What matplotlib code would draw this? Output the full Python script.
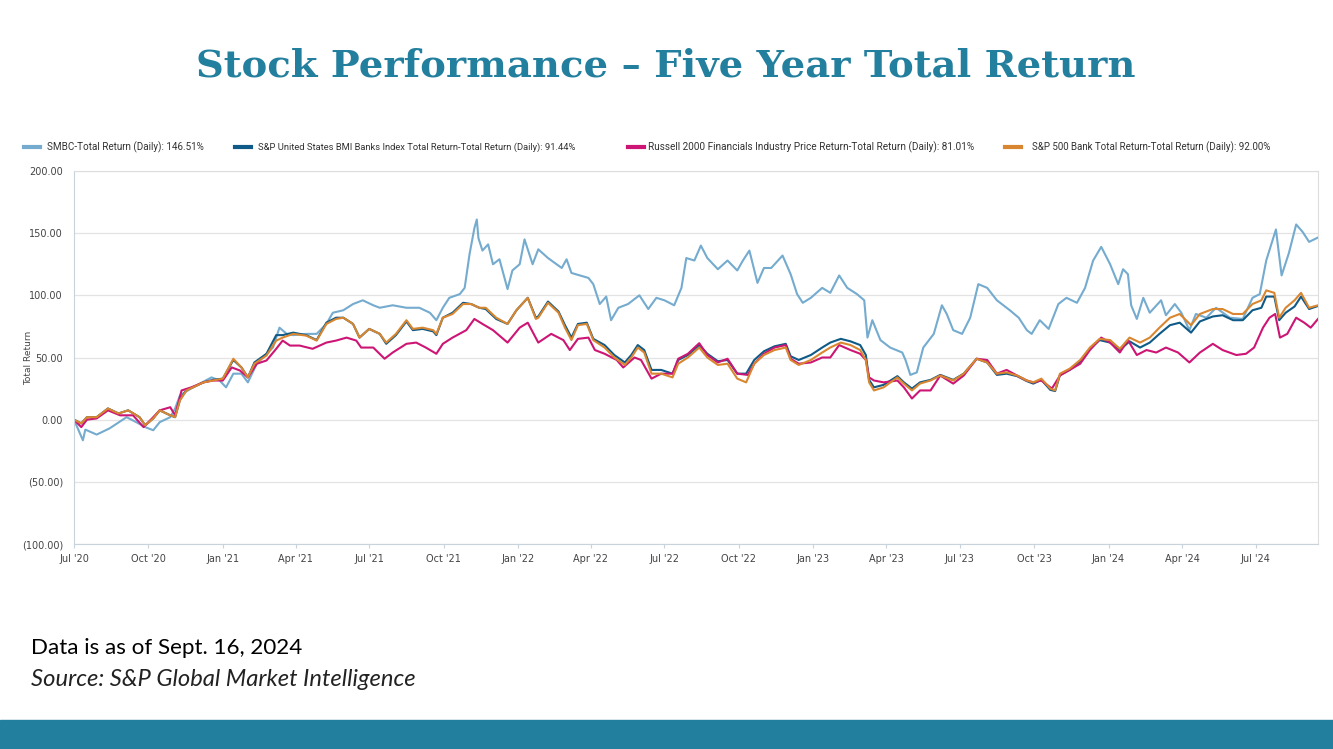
import matplotlib
matplotlib.use("Agg")
import matplotlib.pyplot as plt
import matplotlib.dates as mdates
import matplotlib.ticker as ticker
from matplotlib.lines import Line2D
import pandas as pd

START = pd.Timestamp("2020-07-01")
END = pd.Timestamp("2024-09-16")

# days since 2020-07-01 / total return (%)
smbc_days = [0, 11, 14, 28, 44, 65, 77, 88, 98, 106,
             119, 125, 131, 147, 170, 180, 188, 197, 207, 215,
             226, 246, 254, 263, 271, 287, 300, 312, 320, 333,
             345, 357, 370, 378, 394, 411, 427, 440, 448, 456,
             464, 477, 483, 489, 495, 498, 500, 505, 512, 518,
             526, 536, 542, 551, 557, 567,
             574, 586, 603, 609, 615, 636, 642, 650, 658, 664,
             673, 685, 699, 710, 720, 730, 742, 751, 757, 767,
             775, 783, 796, 808, 820, 827, 835, 845, 853, 862,
             876, 886, 894, 901, 911, 925, 935, 946, 956, 968,
             977, 981, 987, 997, 1009, 1024, 1028, 1034, 1042, 1050,
             1063, 1073, 1079, 1087, 1098, 1108, 1118, 1129,
             1141, 1157, 1168, 1178, 1184, 1194, 1205, 1217, 1227, 1240,
             1250, 1260, 1270, 1281, 1291, 1297, 1303, 1307, 1314, 1322,
             1330, 1344, 1350, 1361, 1369, 1379, 1387, 1400, 1412, 1429,
             1445, 1457, 1466, 1474, 1486, 1493, 1502, 1511, 1519, 1527,
             1538]
smbc_vals = [0, -16.6, -8, -12, -7, 2, -2, -6, -8.5, -2,
             2, 9, 19.5, 26, 34, 31.5, 26, 37, 37, 30,
             45, 58, 74, 69, 68, 69, 69, 77, 86, 88,
             93, 96, 92, 90, 92, 90, 90, 86, 80, 90,
             98, 101, 106, 133, 154, 161, 146, 136, 141, 125,
             129, 105, 120, 125, 145, 125,
             137, 130, 122, 129, 118, 114, 109, 93, 99, 80,
             90, 93, 100, 89, 98, 96, 92, 106, 130, 128,
             140, 130, 121, 128, 120, 128, 136, 110, 122, 122,
             132, 117, 101, 94, 98, 106, 102, 116, 106, 101,
             96, 66, 80, 64, 58, 54, 48, 36, 38, 58,
             69, 92, 85, 72, 69, 82, 109, 106,
             96, 88, 82, 72, 69, 80, 73, 93, 98, 94,
             106, 128, 139, 125, 109, 121, 117, 92, 81, 98,
             86, 96, 84, 93, 86, 72, 85, 82, 90, 82,
             81, 98, 101, 128, 153, 116, 134, 157, 151, 143,
             146.51]

bank_days = [0, 9, 16, 28, 42, 55, 67, 81, 88, 98,
             106, 119, 125, 131, 139, 147, 160, 172, 184, 197,
             207, 215, 223, 238, 250, 258, 271, 287, 300, 312,
             324, 333, 345, 353, 365, 378, 386, 398, 411, 419,
             431, 444, 448, 456, 468, 481, 491, 501, 509, 522,
             536, 547, 561, 571,
             574, 586, 599, 607, 615, 623, 634, 642, 656, 668,
             681, 689, 697, 705, 714, 726, 740, 747, 759, 773,
             783, 796, 808, 820, 831, 841, 853, 866, 880, 886,
             896, 911, 925, 935, 948, 960, 972, 979, 983, 989,
             1001, 1018, 1026, 1036, 1046, 1059, 1071, 1087, 1100, 1116,
             1129,
             1141, 1153, 1166, 1178, 1186, 1196, 1207, 1213, 1219, 1231,
             1244, 1256, 1268, 1281, 1293, 1305, 1318, 1330, 1342, 1355,
             1367, 1381, 1392, 1408, 1420, 1433, 1445, 1457, 1468, 1474,
             1484, 1490, 1498, 1509, 1517, 1527, 1538]
bmi_vals = [0, -3, 2, 2, 9, 5, 7.5, 2, -4.5, 1,
            7.5, 3.5, 2, 16, 24, 26, 30, 32, 33, 48,
            42, 34, 46, 53, 68, 68, 70, 68, 64, 78,
            82, 82, 77, 66, 73, 69, 61, 68, 79, 72,
            73, 71, 68, 82, 86, 94, 93, 90, 89, 81,
            77, 88, 98, 82,
            83, 95, 87, 76, 66, 77, 78, 65, 60, 52,
            46, 52, 60, 56, 40, 40, 37, 48, 52, 60,
            53, 47, 48, 37, 37, 48, 55, 59, 61, 51,
            48, 52, 58, 62, 65, 63, 60, 52, 32, 26,
            28, 35, 30, 25, 30, 32, 36, 32, 37, 49,
            46,
            36, 37, 35, 31, 29, 32, 24, 23, 36, 40,
            47, 57, 64, 62, 56, 63, 58, 62, 69, 76,
            78, 70, 79, 83, 84, 80, 80, 88, 90, 99,
            99, 80, 86, 91, 99, 89, 91.44]
sp500_bank_vals = [0, -3, 2, 2, 9, 5, 7.5, 2, -4.5, 1,
                   7.5, 3.5, 2, 15.5, 23.5, 26, 30, 31.5, 33, 49,
                   42, 34, 45, 51.6, 63.6, 66, 69, 67.6, 63.6, 77,
                   81, 82, 77, 66, 73, 69, 62, 69, 80, 73,
                   74, 72, 69, 82, 85, 93, 93, 90, 90, 82,
                   77, 88, 98, 81,
                   82, 94, 86, 74, 64, 76, 77, 64, 58, 50,
                   44, 50, 58, 54, 37, 37, 34, 45, 50, 58,
                   50, 44, 45, 33, 30, 45, 52, 56, 58, 48,
                   44, 48, 54, 58, 62, 60, 56, 48, 30, 23.5,
                   26, 34, 29, 23.5, 29, 31.5, 35.5, 31.5, 37, 49,
                   46,
                   37, 38, 35.5, 31.5, 30, 33, 25, 23.5, 37, 41,
                   48, 58, 65, 64, 57, 66, 62, 66, 74, 82,
                   85, 76, 85, 89, 89, 85, 85, 93, 96, 104,
                   102, 82, 90, 96, 102, 90, 92.00]

russell_days = [0, 9, 16, 28, 42, 57, 73, 86, 98, 106,
                119, 125, 133, 145, 160, 172, 184, 195, 205, 215,
                226, 238, 250, 258, 267, 279, 295, 312, 324, 337,
                349, 355, 370, 384, 394, 411, 423, 435, 448, 456,
                468, 485, 495, 505, 518, 536, 551, 561,
                574, 590, 605, 613, 623, 636, 644, 656, 671, 679,
                693, 701, 714, 726, 740, 747, 759, 773, 783, 796,
                808, 820, 833, 841, 853, 866, 880, 886, 896, 911,
                925, 935, 946, 960, 972, 979, 983, 989, 1001, 1018,
                1026, 1036, 1046, 1059, 1071, 1087, 1100, 1116, 1129,
                1141, 1153, 1166, 1178, 1186, 1196, 1209, 1219, 1231, 1244,
                1256, 1270, 1281, 1293, 1303, 1314, 1326, 1338, 1350, 1365,
                1379, 1392, 1408, 1420, 1437, 1449, 1459, 1470, 1478, 1485,
                1491, 1500, 1511, 1521, 1529, 1538]
russell_vals = [0, -6, 0, 1, 7.5, 3.5, 3.5, -6, 2, 7.5,
                10, 3.5, 23.5, 26, 30, 31.5, 31.5, 42, 39.6, 34,
                45, 47.6, 57, 63.6, 59.6, 59.6, 57, 62, 63.6, 66,
                63.6, 58, 58, 49, 54, 61, 62, 58, 53, 61,
                66, 72, 81, 77, 72, 62, 74, 78,
                62, 69, 64, 56, 65, 66, 56, 53, 48, 42,
                50, 48, 33, 37, 37, 49, 53, 61.5, 52, 46,
                49, 37, 36, 45, 53, 58, 60, 49, 45, 46,
                50, 50, 60, 56, 53, 48, 34, 31.5, 30, 31.5,
                26, 17, 23.5, 23.5, 35.5, 29, 35.5, 49, 48,
                37, 40, 35.5, 31.5, 30, 31.5, 25, 35.5, 40, 45,
                56, 66, 62, 54, 64, 52, 56, 54, 58, 54,
                46, 54, 61, 56, 52, 53, 58, 74, 82, 85,
                66, 69, 82, 78, 74, 81.01]

labels = ["SMBC-Total Return (Daily): 146.51%",
          "S&P United States BMI Banks Index Total Return-Total Return (Daily): 91.44%",
          "Russell 2000 Financials Industry Price Return-Total Return (Daily): 81.01%",
          "S&P 500 Bank Total Return-Total Return (Daily): 92.00%"]
colors = ["#74abcf", "#0f5a86", "#cc1574", "#d98630"]
TEAL = "#237f9e"
W, H = 1333, 749


def to_dates(days):
    return START + pd.to_timedelta(days, unit="D")


def fmt_y(v, pos):
    return f"({abs(v):.2f})" if v < 0 else f"{v:.2f}"


def fit_text(fig, x_px, y_px, s, width_px, **kw):
    # place text at pixel coords, then rescale font so it spans width_px
    t = fig.text(x_px / W, 1 - y_px / H, s, **kw)
    r = fig.canvas.get_renderer()
    w = t.get_window_extent(r).width
    t.set_fontsize(t.get_fontsize() * width_px / w)
    return t


fig = plt.figure(figsize=(W / 100, H / 100), dpi=100)
fig.patch.set_facecolor("white")

fit_text(fig, 666, 66, "Stock Performance \u2013 Five Year Total Return", 938,
         ha="center", va="center", fontsize=34, fontweight="bold",
         family="DejaVu Serif", color=TEAL)

ax = fig.add_axes([74 / W, 1 - 544 / H, 1244 / W, 373 / H])
series = [(smbc_days, smbc_vals), (bank_days, bmi_vals),
          (russell_days, russell_vals), (bank_days, sp500_bank_vals)]
for (d, v), c in zip(series, colors):
    ax.plot(to_dates(d), v, color=c, lw=1.5, solid_joinstyle="round")

ax.set_xlim(START, END)
ax.set_ylim(-100, 200)
ax.yaxis.set_major_locator(ticker.MultipleLocator(50))
ax.yaxis.set_major_formatter(ticker.FuncFormatter(fmt_y))
ax.xaxis.set_major_locator(mdates.MonthLocator(bymonth=[1, 4, 7, 10]))
ax.xaxis.set_major_formatter(mdates.DateFormatter("%b '%y"))
ax.grid(axis="y", color="#e3e3e3", lw=0.9)
ax.set_axisbelow(True)
for s in ["left", "bottom"]:
    ax.spines[s].set_color("#c9d3dc")
for s in ["top", "right"]:
    ax.spines[s].set_color("#dddddd")
ax.tick_params(axis="y", length=0, labelsize=7, labelcolor="#444444", pad=8)
ax.tick_params(axis="x", length=3, color="#c9d3dc", labelsize=7,
               labelcolor="#444444", pad=4)
ax.set_ylabel("Total Return", fontsize=6.5, color="#444444")
ax.yaxis.set_label_coords(-0.033, 0.5)

# legend row: marker start, text start, text width (px)
legend_mark = [24, 235, 628, 1005]
legend_text = [47, 258, 648, 1032]
legend_width = [156, 317, 325, 240]
for mx, tx, tw, lab, c in zip(legend_mark, legend_text, legend_width, labels, colors):
    fig.add_artist(Line2D([mx / W, (mx + 16) / W], [1 - 147 / H] * 2, color=c,
                          lw=3, transform=fig.transFigure))
    fit_text(fig, tx, 147, lab, tw, ha="left", va="center", fontsize=6.5,
             color="#333333", family="Roboto")

fit_text(fig, 31, 648, "Data is as of Sept. 16, 2024", 272, ha="left",
         va="center", fontsize=15, family="Lato", color="black")
fit_text(fig, 31, 679, "Source: S&P Global Market Intelligence", 387, ha="left",
         va="center", fontsize=15, family="Lato", style="italic", color="#222222")

band = plt.Rectangle((0, 0), 1, 29 / H, transform=fig.transFigure,
                     color=TEAL, zorder=0)
fig.add_artist(band)

fig.savefig("out.png", dpi=100, facecolor="white")
